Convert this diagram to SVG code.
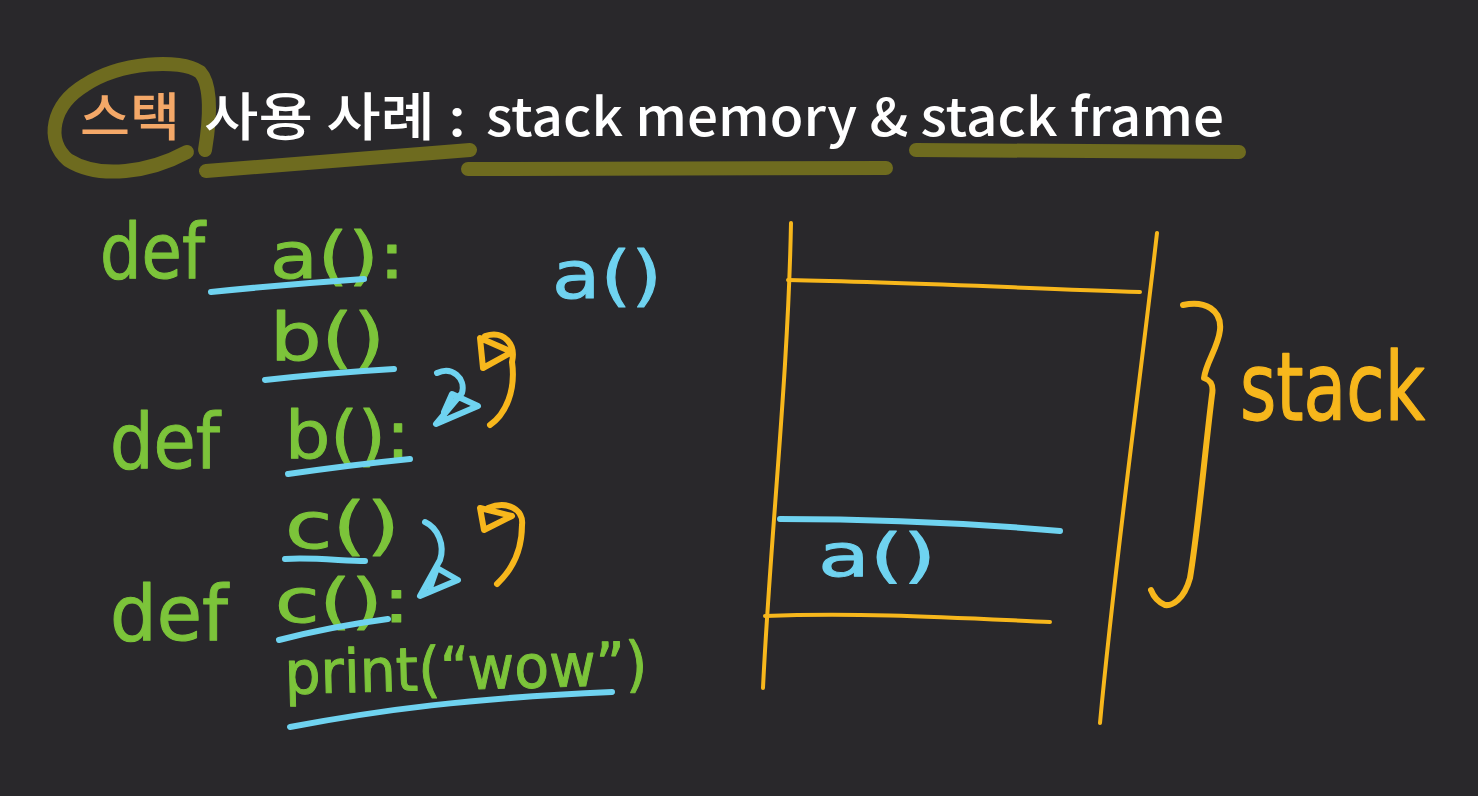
<svg xmlns="http://www.w3.org/2000/svg" width="1478" height="796" viewBox="0 0 1478 796">
<style>
.hl{fill:none;stroke:#6e6b1f;stroke-width:14;stroke-linecap:round;stroke-linejoin:round}
.y{fill:none;stroke:#f7b71c;stroke-width:4;stroke-linecap:round;stroke-linejoin:round}
.yt{fill:none;stroke:#f7b71c;stroke-width:6;stroke-linecap:round;stroke-linejoin:round}
.b{fill:none;stroke:#6fd3f0;stroke-width:6;stroke-linecap:round;stroke-linejoin:round}
.hw{font-family:"DejaVu Sans","Noto Sans",sans-serif;stroke-width:1;stroke-linejoin:round}
.g{fill:#7cc43a;stroke:#7cc43a}
.bl{fill:#6fd3f0;stroke:#6fd3f0}
.or{fill:#f7b71c;stroke:#f7b71c}
.ttl{font-family:"Noto Sans CJK KR","Noto Sans",sans-serif;font-size:52px;font-weight:500}
</style>
<rect width="1478" height="796" fill="#29282b"/>
<g id="title">
<path class="hl" d="M187,152 C150,172 100,180 68,160 C45,140 52,105 85,85 C120,62 180,58 200,72 C212,85 210,120 205,150"/>
<path class="hl" d="M206,171 L470,150"/>
<path class="hl" d="M468,169 L886,168"/>
<path class="hl" d="M916,150 L1239,152"/>
<text class="ttl" x="80" y="136" fill="#f4a868" textLength="100" lengthAdjust="spacingAndGlyphs">스택</text>
<text class="ttl" x="204" y="136" fill="#ffffff" textLength="262" lengthAdjust="spacingAndGlyphs">사용 사례 :</text>
<text class="ttl" x="486" y="136" fill="#ffffff" font-family="Lato,'Noto Sans',sans-serif" font-weight="600" textLength="738" lengthAdjust="spacingAndGlyphs">stack memory &amp; stack frame</text>
</g>
<g id="code">
<text class="hw g" x="100" y="278" font-size="76" textLength="105" lengthAdjust="spacingAndGlyphs">def</text>
<text class="hw g" x="270" y="278" font-size="64" textLength="135" lengthAdjust="spacingAndGlyphs">a():</text>
<path class="b" d="M211,292 C260,287 320,282 364,279"/>
<text class="hw g" x="270" y="360" font-size="66" textLength="115" lengthAdjust="spacingAndGlyphs">b()</text>
<path class="b" d="M265,380 C310,375 360,371 394,369"/>
<text class="hw g" x="110" y="468" font-size="76" textLength="110" lengthAdjust="spacingAndGlyphs">def</text>
<text class="hw g" x="285" y="458" font-size="66" textLength="125" lengthAdjust="spacingAndGlyphs">b():</text>
<path class="b" d="M288,474 C330,468 380,462 410,459"/>
<text class="hw g" x="285" y="548" font-size="64" textLength="115" lengthAdjust="spacingAndGlyphs">c()</text>
<path class="b" d="M285,559 C310,557 345,561 365,561"/>
<text class="hw g" x="110" y="640" font-size="76" textLength="118" lengthAdjust="spacingAndGlyphs">def</text>
<text class="hw g" x="275" y="622" font-size="60" textLength="135" lengthAdjust="spacingAndGlyphs">c():</text>
<path class="b" d="M279,640 C310,632 350,624 388,619"/>
<text class="hw g" x="285" y="694" font-size="60" transform="rotate(-1.5 285 694)" textLength="363" lengthAdjust="spacingAndGlyphs">print(“wow”)</text>
<path class="b" d="M290,727 C380,710 470,698 612,692"/>
</g>
<g id="call-a">
<text class="hw bl" x="552" y="298" font-size="66" textLength="110" lengthAdjust="spacingAndGlyphs">a()</text>
</g>
<g id="connectors">
<path class="b" d="M437,373 C452,366 466,378 462,393 L436,424 L478,406 L452,394 L444,412"/>
<path class="yt" d="M485,336 C505,330 516,345 512,362 C516,390 506,414 490,425"/>
<path class="yt" d="M480,338 L483,368 L512,352 Z"/>
<path class="b" d="M425,522 C438,528 445,545 440,560 L420,596 L458,580 L437,568 L430,588"/>
<path class="yt" d="M488,508 C508,500 524,510 522,525 C522,550 512,570 497,584"/>
<path class="yt" d="M480,508 L484,530 L512,516 Z"/>
</g>
<g id="stack-box">
<path class="y" d="M791,223 C788,380 770,540 763,688"/>
<path class="y" d="M1157,233 C1138,400 1115,560 1100,723"/>
<path class="y" d="M788,280 C900,282 1020,288 1140,292"/>
<path class="b" d="M780,519 C880,519 980,524 1060,531" stroke-width="7"/>
<path class="y" d="M765,616 C860,612 960,618 1050,622"/>
</g>
<g id="frame-a">
<text class="hw bl" x="818" y="576" font-size="58" textLength="118" lengthAdjust="spacingAndGlyphs">a()</text>
</g>
<g id="stack-label">
<path class="yt" d="M1183,305 C1205,300 1222,310 1220,330 C1218,348 1206,362 1204,378 C1210,380 1214,384 1212,395 C1204,460 1198,530 1190,578 C1184,600 1172,606 1165,605 C1158,602 1154,598 1151,590"/>
<text class="hw or" transform="translate(1240,420) scale(1,1.35)" x="0" y="0" font-size="70" textLength="185" lengthAdjust="spacingAndGlyphs">stack</text>
</g>
</svg>
